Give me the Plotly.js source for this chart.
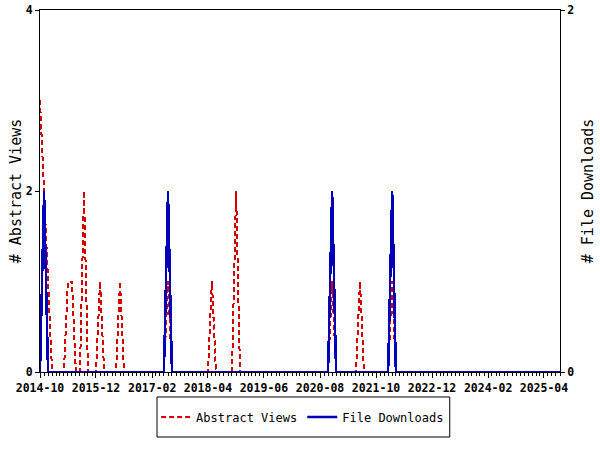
<!DOCTYPE html>
<html>
<head>
<meta charset="utf-8">
<script src="https://cdn.plot.ly/plotly-3.0.1.min.js"></script>
<style>
html,body{margin:0;padding:0;background:#fff;}
#chart{width:600px;height:450px;}
.scatterlayer path.js-line{shape-rendering:crispEdges;}
</style>
</head>
<body>
<div id="chart"></div>
<script>
// Monthly periods
const months = [
  "2014-10","2014-11","2014-12",
  "2015-01","2015-02","2015-03","2015-04","2015-05","2015-06","2015-07","2015-08","2015-09","2015-10","2015-11","2015-12",
  "2016-01","2016-02","2016-03","2016-04","2016-05","2016-06","2016-07","2016-08","2016-09","2016-10","2016-11","2016-12",
  "2017-01","2017-02","2017-03","2017-04","2017-05","2017-06","2017-07","2017-08","2017-09","2017-10","2017-11","2017-12",
  "2018-01","2018-02","2018-03","2018-04","2018-05","2018-06","2018-07","2018-08","2018-09","2018-10","2018-11","2018-12",
  "2019-01","2019-02","2019-03","2019-04","2019-05","2019-06","2019-07","2019-08","2019-09","2019-10","2019-11","2019-12",
  "2020-01","2020-02","2020-03","2020-04","2020-05","2020-06","2020-07","2020-08","2020-09","2020-10","2020-11","2020-12",
  "2021-01","2021-02","2021-03","2021-04","2021-05","2021-06","2021-07","2021-08","2021-09","2021-10","2021-11","2021-12",
  "2022-01","2022-02","2022-03","2022-04","2022-05","2022-06","2022-07","2022-08","2022-09","2022-10","2022-11","2022-12",
  "2023-01","2023-02","2023-03","2023-04","2023-05","2023-06","2023-07","2023-08","2023-09","2023-10","2023-11","2023-12",
  "2024-01","2024-02","2024-03","2024-04","2024-05","2024-06","2024-07","2024-08","2024-09","2024-10","2024-11","2024-12",
  "2025-01","2025-02","2025-03","2025-04","2025-05","2025-06","2025-07","2025-08"
];

const abstractViews = [
  3,2,1,
  0,0,0,0,1,1,0,0,2,0,0,0,
  1,0,0,0,0,1,0,0,0,0,0,0,
  0,0,0,0,0,1,0,0,0,0,0,0,
  0,0,0,0,1,0,0,0,0,0,2,0,
  0,0,0,0,0,0,0,0,0,0,0,0,
  0,0,0,0,0,0,0,0,0,0,1,0,
  0,0,0,0,0,1,0,0,0,0,0,0,
  0,1,0,0,0,0,0,0,0,0,0,0,
  0,0,0,0,0,0,0,0,0,0,0,0,
  0,0,0,0,0,0,0,0,0,0,0,0,
  0,0,0,0,0,0,0,0
];

const fileDownloads = [
  0,1,0,
  0,0,0,0,0,0,0,0,0,0,0,0,
  0,0,0,0,0,0,0,0,0,0,0,0,
  0,0,0,0,0,1,0,0,0,0,0,0,
  0,0,0,0,0,0,0,0,0,0,0,0,
  0,0,0,0,0,0,0,0,0,0,0,0,
  0,0,0,0,0,0,0,0,0,0,1,0,
  0,0,0,0,0,0,0,0,0,0,0,0,
  0,1,0,0,0,0,0,0,0,0,0,0,
  0,0,0,0,0,0,0,0,0,0,0,0,
  0,0,0,0,0,0,0,0,0,0,0,0,
  0,0,0,0,0,0,0,0
];

const seriesNames = ["Abstract Views", "File Downloads"];
const yTitles = ["# Abstract Views", "# File Downloads"];

const mono = "DejaVu Sans Mono, Liberation Mono, monospace";
const tickFont = {family: mono, size: 11.5, color: "#000", weight: "bold"};

const traces = [
  {
    x: months, y: abstractViews, name: seriesNames[0],
    type: "scatter", mode: "lines", yaxis: "y",
    line: {color: "#d40000", width: 2, dash: "5px,3px"}
  },
  {
    x: months, y: fileDownloads, name: seriesNames[1],
    type: "scatter", mode: "lines", yaxis: "y2",
    line: {color: "#0000b8", width: 2.5}
  }
];

const layout = {
  width: 600, height: 450,
  margin: {l: 40, r: 40, t: 10, b: 78},
  paper_bgcolor: "#fff", plot_bgcolor: "#fff",
  font: {family: mono, color: "#000"},
  showlegend: true,
  xaxis: {
    type: "date",
    range: ["2014-10-01", "2025-08-01"],
    tick0: "2014-10-01", dtick: "M14", tickformat: "%Y-%m",
    ticks: "outside", ticklen: 5, tickcolor: "#000", tickwidth: 1,
    minor: {dtick: "M1", ticks: "outside", ticklen: 3, tickcolor: "#000", showgrid: false},
    showline: true, linecolor: "#000", linewidth: 1, mirror: true,
    showgrid: false, zeroline: false,
    tickfont: tickFont
  },
  yaxis: {
    range: [0, 4], tick0: 0, dtick: 2,
    ticks: "outside", ticklen: 4, tickcolor: "#000",
    showline: true, linecolor: "#000", linewidth: 1,
    showgrid: false, zeroline: false,
    tickfont: tickFont,
    title: {text: yTitles[0], font: {family: mono, size: 15, color: "#000"}, standoff: 0}
  },
  yaxis2: {
    range: [0, 2], tick0: 0, dtick: 2,
    overlaying: "y", side: "right",
    ticks: "outside", ticklen: 4, tickcolor: "#000",
    showline: true, linecolor: "#000", linewidth: 1,
    showgrid: false, zeroline: false,
    tickfont: tickFont,
    title: {text: yTitles[1], font: {family: mono, size: 15, color: "#000"}, standoff: 9}
  },
  shapes: [{
    type: "rect", xref: "paper", yref: "paper",
    x0: 0.225, x1: 0.788, y0: -0.1796, y1: -0.069,
    line: {color: "#000", width: 1}, fillcolor: "rgba(0,0,0,0)"
  }],
  legend: {
    orientation: "h",
    x: 0.505, xanchor: "center",
    y: -0.1243, yanchor: "middle",
    borderwidth: 0, bgcolor: "rgba(0,0,0,0)",
    font: {family: mono, size: 12, color: "#000"},
    itemwidth: 30
  }
};

Plotly.newPlot("chart", traces, layout, {displayModeBar: false, staticPlot: true});
</script>
</body>
</html>
